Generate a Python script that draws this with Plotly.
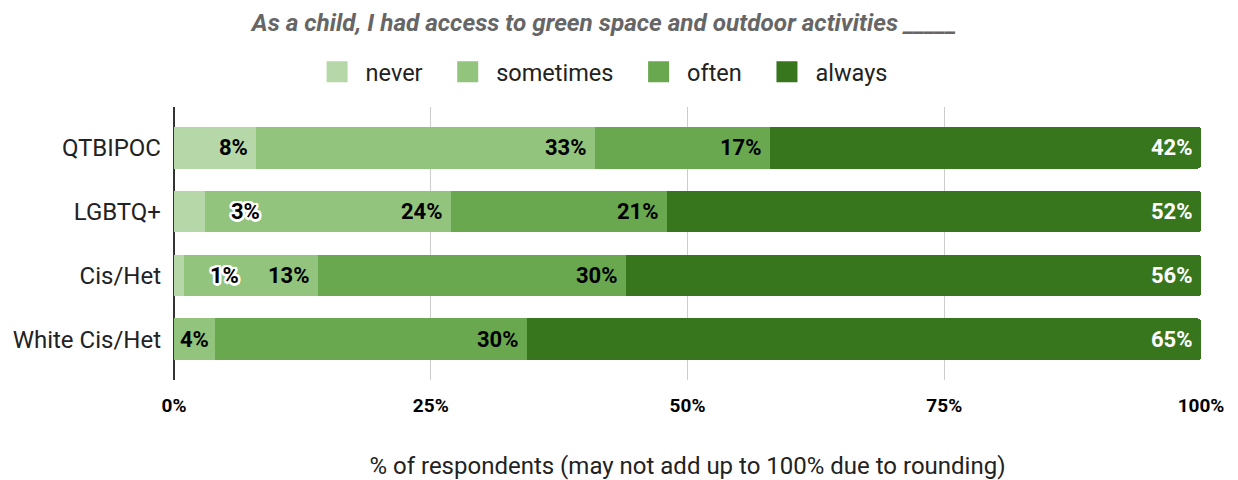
import plotly.graph_objects as go

# Survey responses, % of respondents per group
groups = ["QTBIPOC", "LGBTQ+", "Cis/Het", "White Cis/Het"]
never = [8, 3, 1, 0]
sometimes = [33, 24, 13, 4]
often = [17, 21, 30, 30]
always = [42, 52, 56, 65]

answers = ["never", "sometimes", "often", "always"]
colors = ["#b6d7a8", "#93c47d", "#6aa84f", "#38761d"]
label_colors = ["#000000", "#000000", "#000000", "#ffffff"]

x_ticks = [0, 25, 50, 75, 100]
x_tick_text = ["0%", "25%", "50%", "75%", "100%"]

series = [never, sometimes, often, always]

FONT = "Roboto"
PLOT_W = 1027  # plot area width in px, used to decide label placement

fig = go.Figure()

for name, vals, col in zip(answers, series, colors):
    fig.add_trace(go.Bar(
        y=groups, x=vals, name=name, orientation="h",
        marker=dict(color=col, line=dict(width=0)),
        showlegend=False, hoverinfo="x+name",
    ))
    # larger legend swatch
    fig.add_trace(go.Scatter(
        x=[None], y=[None], mode="markers", name=name + "\u00a0\u00a0",
        marker=dict(symbol="square", size=16, color=col,
                    line=dict(color=col, width=5)),
        showlegend=True,
    ))

# white outline for labels that sit outside their segment
halo = ", ".join(
    f"{dx}px {dy}px 0 #fff"
    for dx, dy in [(2.5, 0), (-2.5, 0), (0, 2.5), (0, -2.5),
                   (1.8, 1.8), (-1.8, -1.8), (1.8, -1.8), (-1.8, 1.8),
                   (1.2, 2.2), (-1.2, 2.2), (1.2, -2.2), (-1.2, -2.2),
                   (2.2, 1.2), (-2.2, 1.2), (2.2, -1.2), (-2.2, -1.2)]
)

annotations = []
for gi, g in enumerate(groups):
    total = sum(s[gi] for s in series)
    cum = 0.0
    for si, s in enumerate(series):
        v = s[gi]
        start = cum
        cum += v / total * 100
        if v == 0:
            continue
        seg_px = (cum - start) / 100 * PLOT_W
        text = f"{v}%"
        base = dict(y=g, yref="y", xref="x", text=text, showarrow=False,
                    font=dict(family=FONT, size=22, weight="bold",
                              color=label_colors[si]))
        if seg_px < 40:
            base.update(x=cum, xanchor="left", xshift=24)
            base["font"]["shadow"] = halo
            base["font"]["color"] = "#000000"
        elif seg_px < 55:
            base.update(x=(start + cum) / 2, xanchor="center")
        else:
            base.update(x=cum, xanchor="right", xshift=-6)
        annotations.append(base)

fig.update_layout(
    barmode="stack",
    barnorm="percent",
    bargap=0.35,
    barcornerradius=3,
    width=1238, height=480,
    margin=dict(l=174, r=37, t=107, b=100, autoexpand=False),
    paper_bgcolor="white", plot_bgcolor="white",
    font=dict(family=FONT, color="#222222"),
    title=dict(
        text="As a child, I had access to green space and outdoor activities _____",
        font=dict(family=FONT, size=24.3, weight="bold", style="italic", color="#666666"),
        x=0.488, xref="container", xanchor="center",
        y=1 - 22 / 480, yref="container", yanchor="middle",
    ),
    legend=dict(
        orientation="h", x=0.49, xref="container", xanchor="center",
        y=1 - 72 / 480, yref="container", yanchor="middle",
        font=dict(family=FONT, size=23.5, color="#222222"),
        itemwidth=47, traceorder="normal",
    ),
    xaxis=dict(
        range=[0, 100], tickvals=x_ticks, ticktext=x_tick_text,
        showgrid=True, gridcolor="#cccccc", gridwidth=1,
        zeroline=True, zerolinecolor="#333333", zerolinewidth=2,
        showline=False, ticks="",
        tickfont=dict(family=FONT, size=19, weight="bold", color="#000000"),
        ticklabelstandoff=12,
        title=dict(text="% of respondents (may not add up to 100% due to rounding)",
                   font=dict(family=FONT, size=24, color="#222222"), standoff=48),
        automargin=False,
        fixedrange=True,
    ),
    yaxis=dict(
        type="category", categoryorder="array",
        categoryarray=list(reversed(groups)),
        range=[-0.64, 3.64], showgrid=False, showline=False, ticks="",
        tickfont=dict(family=FONT, size=24, color="#222222"),
        ticklabelstandoff=12,
        automargin=False,
        fixedrange=True,
    ),
    annotations=annotations,
)

fig.write_html("out.html")
